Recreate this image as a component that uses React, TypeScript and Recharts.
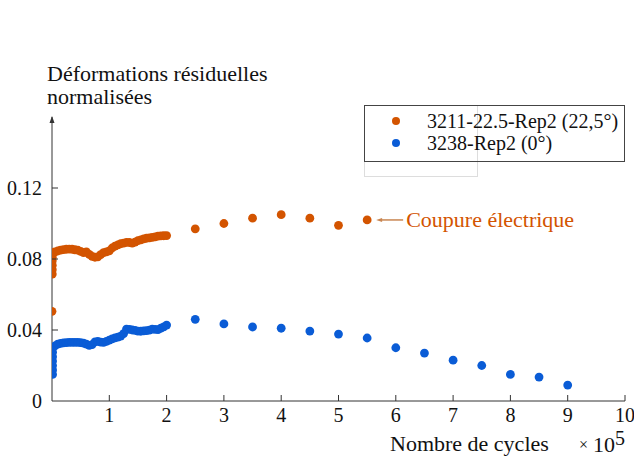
import { ScatterChart, Scatter, XAxis, YAxis, Legend, ReferenceDot } from 'recharts'

const ORANGE = '#D35400'
const BLUE = '#0A5CD6'
const AXIS = '#333'
const FONT = '"Liberation Serif", "Times New Roman", serif'

// série 3211-22.5-Rep2 (22,5°) — cycles en 1e5
const cyclesA = [
  0, 0.005, 0.005, 0.005, 0.005, 0.005, 0.005, 0.02,
  0.05, 0.1, 0.15, 0.2, 0.25, 0.3, 0.35, 0.4, 0.45, 0.5,
  0.55, 0.6, 0.65, 0.7, 0.75, 0.8, 0.85, 0.9, 0.95, 1.0,
  1.05, 1.1, 1.15, 1.2, 1.25, 1.3, 1.35, 1.4, 1.45, 1.5,
  1.55, 1.6, 1.65, 1.7, 1.75, 1.8, 1.85, 1.9, 1.95, 2.0,
  2.5, 3.0, 3.5, 4.0, 4.5, 5.0, 5.5,
]
const strainA = [
  0.0505, 0.0715, 0.074, 0.0765, 0.079, 0.081, 0.083, 0.0835,
  0.084, 0.0845, 0.085, 0.0853, 0.0855, 0.0856, 0.0855, 0.0852, 0.085, 0.0843,
  0.0836, 0.084, 0.0826, 0.0815, 0.081, 0.0812, 0.0825, 0.0836, 0.084, 0.0846,
  0.0862, 0.0873, 0.088, 0.0886, 0.089, 0.0894, 0.0893, 0.0889, 0.0895, 0.0903,
  0.0908, 0.0913, 0.0917, 0.0919, 0.0922, 0.0925, 0.0929, 0.093, 0.0931, 0.0932,
  0.097, 0.1, 0.103, 0.105, 0.103, 0.099, 0.102,
]

// série 3238-Rep2 (0°)
const cyclesB = [
  0.01, 0.01, 0.01, 0.01, 0.01, 0.01, 0.01,
  0.05, 0.1, 0.15, 0.2, 0.25, 0.3, 0.35, 0.4, 0.45, 0.5,
  0.55, 0.6, 0.65, 0.7, 0.75, 0.8, 0.85, 0.9, 0.95, 1.0,
  1.05, 1.1, 1.15, 1.2, 1.25, 1.3, 1.35, 1.4, 1.45, 1.5,
  1.55, 1.6, 1.65, 1.7, 1.75, 1.8, 1.85, 1.9, 1.95, 2.0,
  2.5, 3.0, 3.5, 4.0, 4.5, 5.0, 5.5, 6.0, 6.5, 7.0, 7.5, 8.0, 8.5, 9.0,
]
const strainB = [
  0.015, 0.0175, 0.02, 0.0225, 0.025, 0.0275, 0.03,
  0.031, 0.032, 0.0325, 0.0327, 0.0329, 0.033, 0.033, 0.033, 0.033, 0.0329,
  0.0326, 0.032, 0.0313, 0.0318, 0.0333, 0.0336, 0.0332, 0.033, 0.0336, 0.0343,
  0.035, 0.0356, 0.036, 0.0366, 0.038, 0.0405, 0.0403, 0.04, 0.0398, 0.0394,
  0.0393, 0.0395, 0.0396, 0.0399, 0.0405, 0.0404, 0.0402, 0.041, 0.0418, 0.0428,
  0.046, 0.0434, 0.0417, 0.041, 0.0394, 0.0377, 0.0355, 0.03, 0.027, 0.023, 0.02, 0.015, 0.0135, 0.009,
]

const xTicks = [1, 2, 3, 4, 5, 6, 7, 8, 9, 10]
const yTicks = [0, 0.04, 0.08, 0.12]
const yTickLabels = ['0', '0.04', '0.08', '0.12']

const seriesNames = ['3211-22.5-Rep2 (22,5°)', '3238-Rep2 (0°)']
const cutPoint = { x: 5.5, y: 0.102, label: 'Coupure électrique' }

const dataA = cyclesA.map((x, i) => ({ x, y: strainA[i] }))
const dataB = cyclesB.map((x, i) => ({ x, y: strainB[i] }))

function dot(color: string) {
  return (p: any) => <circle cx={p.cx} cy={p.cy} r={4.4} fill={color} />
}

function XTick(p: any) {
  return (
    <g>
      <line x1={p.x} y1={p.y} x2={p.x} y2={p.y - 6} stroke={AXIS} />
      <text x={p.x} y={p.y + 21} textAnchor="middle" fontSize={20} fontFamily={FONT} fill="#111">
        {p.payload.value}
      </text>
    </g>
  )
}

function YTick(p: any) {
  const idx = yTicks.indexOf(p.payload.value)
  return (
    <g>
      {p.payload.value !== 0 && <line x1={p.x} y1={p.y} x2={p.x + 6} y2={p.y} stroke={AXIS} />}
      <text x={p.x - 10} y={p.y + 7} textAnchor="end" fontSize={20} fontFamily={FONT} fill="#111">
        {yTickLabels[idx]}
      </text>
    </g>
  )
}

function LegendBox() {
  const colors = [ORANGE, BLUE]
  return (
    <div style={{ position: 'relative', width: 261, height: 57, fontFamily: FONT, fontSize: 20, color: '#111' }}>
      <div style={{ position: 'absolute', left: 0, top: 0, width: 114, height: 72, border: '1px solid #ddd', boxSizing: 'border-box' }} />
      <div style={{ position: 'absolute', left: 0, top: 0, width: 261, height: 57, border: '1px solid #444', boxSizing: 'border-box' }} />
      {seriesNames.map((n, i) => (
        <div key={n} style={{ position: 'absolute', left: 0, top: 4 + i * 22, height: 24, display: 'flex', alignItems: 'center' }}>
          <span style={{ width: 8, height: 8, borderRadius: 4, background: colors[i], marginLeft: 28, marginRight: 27, display: 'inline-block' }} />
          <span style={{ whiteSpace: 'nowrap' }}>{n}</span>
        </div>
      ))}
    </div>
  )
}

export default function App() {
  return (
    <div style={{ width: 634, height: 458, background: '#fff' }}>
      <style>{'body{margin:0}'}</style>
      <ScatterChart width={634} height={458} margin={{ top: 117, right: 9, bottom: 27, left: 12 }}>
        <XAxis
          type="number"
          dataKey="x"
          domain={[0, 10]}
          ticks={xTicks}
          height={30}
          tickSize={0}
          tickMargin={0}
          tickLine={false}
          tick={XTick}
          stroke={AXIS}
          allowDataOverflow
          label={{
            content: (props: any) => {
              const vb = props.viewBox
              return (
                <g fontFamily={FONT} fill="#111">
                  <text x={vb.x + 338} y={vb.y + 50} fontSize={22}>Nombre de cycles</text>
                  <text x={vb.x + 527} y={vb.y + 49} fontSize={16}>×</text>
                  <text x={vb.x + 541} y={vb.y + 51} fontSize={22}>10</text>
                  <text x={vb.x + 563} y={vb.y + 44} fontSize={20}>5</text>
                </g>
              )
            },
          }}
        />
        <YAxis
          type="number"
          dataKey="y"
          domain={[0, 0.16]}
          ticks={yTicks}
          width={40}
          tickSize={0}
          tickMargin={0}
          tickLine={false}
          tick={YTick}
          stroke={AXIS}
          allowDataOverflow
          label={{
            content: (props: any) => {
              const vb = props.viewBox
              return (
                <g fontFamily={FONT} fill="#111" fontSize={22}>
                  <text x={vb.x + 35} y={vb.y - 36}>Déformations résiduelles</text>
                  <text x={vb.x + 35} y={vb.y - 13}>normalisées</text>
                </g>
              )
            },
          }}
        />
        <ReferenceDot
          x={0}
          y={0.16}
          ifOverflow="visible"
          shape={(p: any) => (
            <polygon points={`${p.cx},${p.cy - 1} ${p.cx - 2.5},${p.cy + 6} ${p.cx + 2.5},${p.cy + 6}`} fill={AXIS} />
          )}
        />
        <Legend
          layout="vertical"
          align="center"
          verticalAlign="middle"
          wrapperStyle={{ left: 364, top: 105, width: 261, height: 57 }}
          content={() => <LegendBox />}
        />
        <Scatter name={seriesNames[1]} data={dataB} fill={BLUE} shape={dot(BLUE)} isAnimationActive={false} />
        <Scatter name={seriesNames[0]} data={dataA} fill={ORANGE} shape={dot(ORANGE)} isAnimationActive={false} />
        <ReferenceDot
          x={cutPoint.x}
          y={cutPoint.y}
          ifOverflow="visible"
          shape={(p: any) => (
            <g>
              <line x1={p.cx + 12} y1={p.cy} x2={p.cx + 36} y2={p.cy} stroke="#C98652" strokeWidth={1.5} />
              <polygon points={`${p.cx + 9},${p.cy} ${p.cx + 15},${p.cy - 2} ${p.cx + 15},${p.cy + 2}`} fill="#C98652" />
              <text x={p.cx + 39} y={p.cy + 7} fontSize={22} fontFamily={FONT} fill={ORANGE}>
                {cutPoint.label}
              </text>
            </g>
          )}
        />
      </ScatterChart>
    </div>
  )
}
